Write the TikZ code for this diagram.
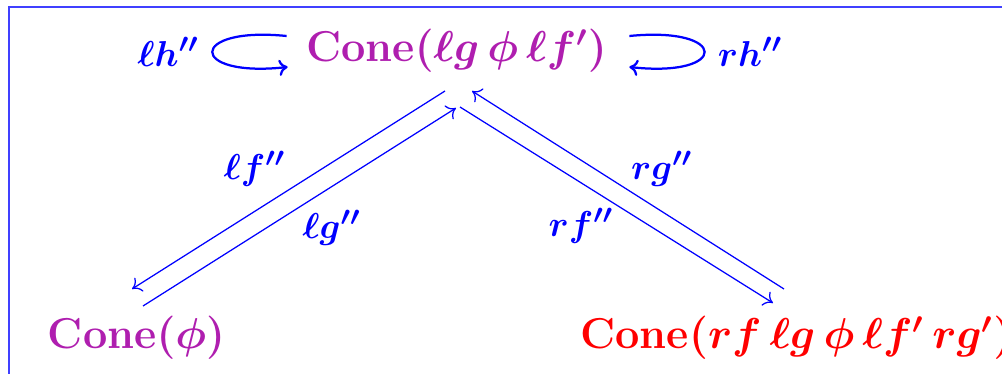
\documentclass[tikz,border=0pt]{standalone}
\usepackage{amsmath}
\usetikzlibrary{arrows.meta}
\definecolor{conepurple}{RGB}{175,30,175}
\tikzset{
  obj/.style={inner sep=0pt, font=\LARGE\bfseries\boldmath},
  lbl/.style={text=blue, inner sep=1pt, font=\fontsize{15}{18}\selectfont\boldmath},
  arr/.style={-{To[length=3.5pt,width=6.5pt]}, blue, line width=0.5pt},
  looparr/.style={-{To[length=3.5pt,width=6.5pt]}, blue, line width=0.9pt}
}
\begin{document}
\begin{tikzpicture}[x=0.4pt, y=0.4pt]
  \useasboundingbox (0,0) rectangle (1002,374);

  % frame
  \draw[blue!75, line width=0.8pt] (9,-20) -- (9,367) -- (1030,367);

  % objects
  \node[obj, text=conepurple, anchor=base] (T) at (456.5,312) {Cone$(\ell g\,\phi\,\ell f')$};
  \node[obj, text=conepurple, anchor=base] (L) at (136.5,25) {Cone$(\phi)$};
  \node[obj, text=red, anchor=base west] (R) at (580,25) {Cone$(rf\,\ell g\,\phi\,\ell f'\,rg')$};

  % left pair
  \draw[arr] ([shift={(-11.5,-29)}]T.base) -- node[lbl, above left] {$\ell f''$} ([shift={(-4.5,60)}]L.base);
  \draw[arr] ([shift={(6.5,43)}]L.base) -- node[lbl, below right] {$\ell g''$} ([shift={(-0.5,-46)}]T.base);

  % right pair
  \draw[arr] ([shift={(204,60)}]R.base west) -- node[lbl, above right] {$rg''$} ([shift={(15.5,-29)}]T.base);
  \draw[arr] ([shift={(3.5,-45)}]T.base) -- node[lbl, below left] {$rf''$} ([shift={(193,46)}]R.base west);

  % loops
  \draw[looparr] ([shift={(-19,26)}]T.base west) .. controls +(-99,10) and +(-100,-11)
    .. node[lbl, left=4pt] {$\ell h''$} ([shift={(-18,-5)}]T.base west);
  \draw[looparr] ([shift={(22,26)}]T.base east) .. controls +(100,10) and +(100,-11)
    .. node[lbl, right=4pt] {$rh''$} ([shift={(22,-5)}]T.base east);

\end{tikzpicture}
\end{document}
